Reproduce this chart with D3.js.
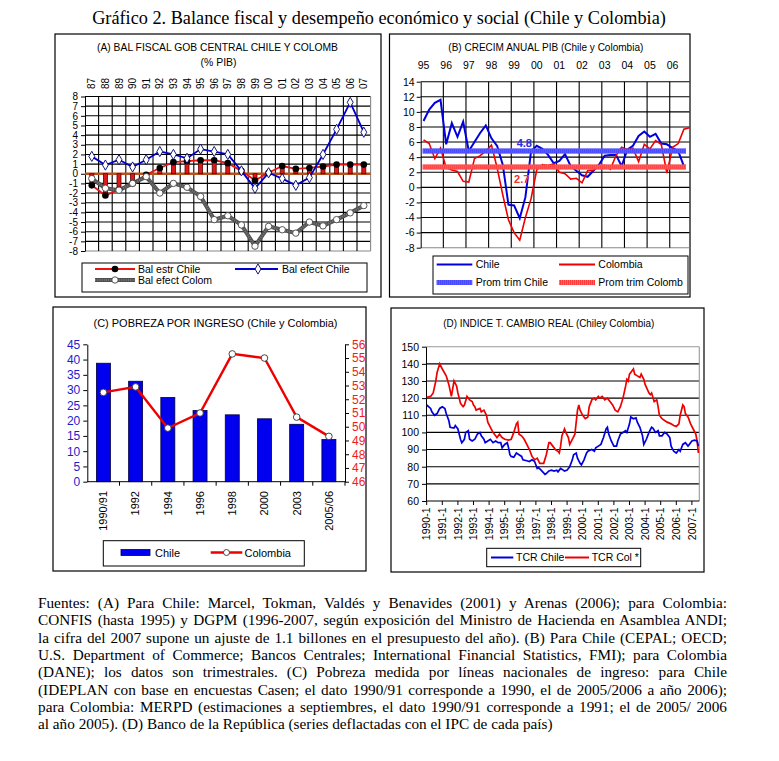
<!DOCTYPE html>
<html><head><meta charset="utf-8">
<script src="https://cdn.jsdelivr.net/npm/d3@7"></script>
<style>body{margin:0;background:#fff}svg{display:block}</style>
</head><body><svg id="c" width="779" height="761"></svg>
<script>
// ---------------- DATA ----------------
const yearsA = ["87","88","89","90","91","92","93","94","95","96","97","98","99","00","01","02","03","04","05","06","07"];
const balEstrChile = [-1.2,-2.25,-1.65,-1.0,-0.1,0.6,1.2,1.3,1.4,1.4,1.1,0.3,-0.7,0.1,0.8,0.5,0.6,0.75,0.95,0.95,0.95];
const balEfectChile = [1.8,0.9,1.45,0.7,1.45,2.3,2.0,1.6,2.55,2.3,2.0,0.3,-1.5,0.1,-0.5,-1.2,-0.4,2.0,4.6,7.4,4.3];
const balEfectColom = [-0.5,-1.5,-1.7,-1.0,-0.3,-2.0,-1.0,-1.4,-2.35,-4.75,-4.35,-5.3,-7.5,-5.45,-5.8,-6.15,-5.0,-5.4,-4.75,-4.05,-3.3];
const ticksA = [8,7,6,5,4,3,2,1,0,-1,-2,-3,-4,-5,-6,-7,-8];

const yearsB = ["95","96","97","98","99","00","01","02","03","04","05","06"];
const pibChile = [8.8,10.3,11.2,11.6,5.7,8.5,6.7,8.7,4.8,6.0,7.2,8.2,6.5,5.5,3.0,-2.3,-2.4,-4.1,-1.3,4.8,5.5,5.1,4.3,3.2,3.5,4.4,2.8,2.2,1.6,1.4,2.2,3.0,4.2,4.3,4.3,2.8,5.0,5.5,6.8,7.4,6.7,7.1,5.8,5.7,5.2,4.8,2.8];
const pibColombia = [6.3,5.8,3.8,5.2,2.6,2.3,2.1,0.8,0.7,3.8,4.2,4.8,5.6,2.6,-1.0,-4.3,-6.0,-7.0,-4.0,-1.5,2.3,3.0,2.9,3.1,2.0,1.8,1.1,1.2,0.6,2.2,2.3,2.7,2.9,2.4,4.2,5.3,5.0,5.2,3.4,5.7,5.1,6.2,5.7,1.9,5.3,5.8,7.7,7.9];
const promTrim = [4.8, 2.7]; // Chile, Colombia
const ticksB = [14,12,10,8,6,4,2,0,-2,-4,-6,-8];

const pobCats = ["1990/91","1992","1994","1996","1998","2000","2003","2005/06"];
const pobChile = [38.8,32.9,27.6,23.3,21.9,20.6,18.8,13.8];
const pobColombia = [52.5,52.9,49.9,51.0,55.3,55.0,50.7,49.3];
const ticksCLeft = [0,5,10,15,20,25,30,35,40,45];
const ticksCRight = [46,47,48,49,50,51,52,53,54,55,56];

const tcrYearLabels = ["1990-1","1991-1","1992-1","1993-1","1994-1","1995-1","1996-1","1997-1","1998-1","1999-1","2000-1","2001-1","2002-1","2003-1","2004-1","2005-1","2006-1","2007-1"];
// months since 1990-1
const tcrChileMonth = [0,3,4,6,8,10,12,14,15,17,18,21,22,24,26,27,29,30,32,33,35,37,39,41,42,44,45,47,49,51,53,55,57,58,60,62,63,64,65,67,69,71,73,74,77,79,81,83,85,86,88,91,92,94,96,98,100,101,103,105,106,108,110,112,113,115,116,118,119,121,123,124,127,129,130,132,134,136,138,139,140,142,144,146,147,149,151,153,154,156,157,159,161,162,164,166,167,169,171,173,174,176,178,179,181,183,185,187,188,190,192,194,195,197,199,201,202,204,206,208,209];
const tcrChileValue = [116,114,112,110,111,114,115,114,111,107,103,102.5,104,102,96,94,96,100,101,96,95,96,99,100,98,96,94,95,96,94,95,94,94,91,93,94,91,87,86,85.5,88,87,86,84,83.5,83,84,83,79,79.5,78,75.5,76,77.5,78,77.5,78,77,79,78,77.5,78,80,84,87,88,85,82,81,84,88,89,90,89,91,92,93,97,102,103,99,95,92,92,95,99,100,101,100,105,109,108,108.5,106,103,98,93,96,100,103,102.5,100,101,98,98,100,99,97,92,89,88,90,89,93,94,92,93,95,95.5,95,92];
const tcrColMonth = [0,3,5,7,8,10,12,15,17,19,21,23,24,26,28,29,31,33,35,36,37,38,41,42,44,46,47,49,51,53,54,56,58,60,63,65,67,69,70,71,73,75,77,79,81,83,85,87,90,92,94,95,97,99,101,102,103,104,106,107,109,110,112,114,115,116,117,118,120,122,124,125,127,129,130,132,133,135,137,139,141,143,145,147,149,151,153,154,155,156,158,159,160,162,164,165,167,168,171,172,173,175,177,178,179,181,183,185,188,190,192,194,195,197,198,199,201,203,205,207,208,209];
const tcrColValue = [120.5,121,123,130,135,140,137,133,128,121,130,127,123,117,115,116,121,119,118,116,115,113,114,112,113,110,106,103,100,98,97,99,97,96,95.5,96,100,105,106,99,98,96,93,90,86,84,85,82,82,87,94,94,92,90,89,88,92,98,102,100,97,93,96,99,106,113,116,113,110,108,109,115,119,120,119,121,120,121,119,120,118,116,113,112,115,120,127,131,130,134,136,137,134,133,132,134,131,128,123,122,123,118,119,115,110,108,107,106,105,104,103.5,105,110,116,115,111,109,105,102,99,95,88];
const ticksD = [150,140,130,120,110,100,90,80,70,60];

const mainTitle = "Gráfico 2. Balance fiscal y desempeño económico y social (Chile y Colombia)";
const footLines = [
 "Fuentes: (A) Para Chile: Marcel, Tokman, Valdés y Benavides (2001) y Arenas (2006); para Colombia:",
 "CONFIS (hasta 1995) y DGPM (1996-2007, según exposición del Ministro de Hacienda en Asamblea ANDI;",
 "la cifra del 2007 supone un ajuste de 1.1 billones en el presupuesto del año). (B) Para Chile (CEPAL; OECD;",
 "U.S. Department of Commerce; Bancos Centrales; International Financial Statistics, FMI); para Colombia",
 "(DANE); los datos son trimestrales. (C) Pobreza medida por líneas nacionales de ingreso: para Chile",
 "(IDEPLAN con base en encuestas Casen; el dato 1990/91 corresponde a 1990, el de 2005/2006 a año 2006);",
 "para Colombia: MERPD (estimaciones a septiembres, el dato 1990/91 corresponde a 1991; el de 2005/ 2006",
 "al año 2005). (D) Banco de la República (series deflactadas con el IPC de cada país)"
];

// ---------------- DRAW ----------------
const SANS = "'Liberation Sans', Arial, sans-serif";
const SERIF = "'Liberation Serif', 'Times New Roman', serif";
const svg = d3.select("#c");
svg.append("rect").attr("width",779).attr("height",761).attr("fill","#fff");

function ln(g,x1,y1,x2,y2,stroke,w,dash){
  const l=g.append("line").attr("x1",x1).attr("y1",y1).attr("x2",x2).attr("y2",y2)
   .attr("stroke",stroke).attr("stroke-width",w);
  if(dash) l.attr("stroke-dasharray",dash);
  return l;
}
function tx(g,x,y,s,o={}){
  const t=g.append("text").attr("x",x).attr("y",y).text(s)
   .attr("font-family",o.family||SANS).attr("font-size",o.size||10.5)
   .attr("fill",o.fill||"#000").attr("text-anchor",o.anchor||"start");
  if(o.weight) t.attr("font-weight",o.weight);
  if(o.len){ t.attr("textLength",o.len).attr("lengthAdjust","spacingAndGlyphs"); }
  if(o.transform) t.attr("transform",o.transform);
  if(o.dy) t.attr("dy",o.dy);
  return t;
}
function box(g,x1,y1,x2,y2,w){
  g.append("rect").attr("x",x1).attr("y",y1).attr("width",x2-x1).attr("height",y2-y1)
   .attr("fill","none").attr("stroke","#000").attr("stroke-width",w||1.2);
}
function styleAxis(a){
  a.selectAll("text").attr("font-family",SANS);
  a.select(".domain").attr("stroke","#000");
}
const fmt = d=>String(d);

// Main title
const mt = tx(svg,379,24,mainTitle,{family:SERIF,size:16,anchor:"middle"});
{ const w=mt.node().getComputedTextLength(); mt.attr("font-size",16*574/w); }

// Panel boxes
box(svg,55,34,381,297);
box(svg,389.5,34,690,297);
box(svg,53,307,366,571);
box(svg,391,308,704,572);

// ===== Panel A =====
{
 const g=svg.append("g");
 const x=d3.scaleBand().domain(yearsA).range([85,370.6]);
 const y=d3.scaleLinear().domain([-8,8]).range([251,96.5]);
 const cx=d=>x(d)+x.bandwidth()/2;
 tx(g,217.5,50.5,"(A) BAL FISCAL GOB CENTRAL CHILE Y COLOMB",{anchor:"middle",size:10.5,len:241});
 tx(g,218.5,66,"(% PIB)",{anchor:"middle",size:10.5,len:36});
 // grid
 ticksA.forEach(v=>{ ln(g,85,y(v),370.6,y(v), v===-8?"#888":"#000", 1.1); });
 yearsA.forEach((d,i)=>{ if(i>0) ln(g,x(d),y(8),x(d),y(-8),"#000",1.1); });
 ln(g,370.6,y(8),370.6,y(-8),"#888",1.1);
 const ax=g.append("g").attr("transform","translate(85,0)")
   .call(d3.axisLeft(y).tickValues(ticksA).tickSize(4).tickSizeOuter(0).tickPadding(3).tickFormat(fmt));
 styleAxis(ax); ax.selectAll("text").attr("font-size",10);
 // top labels
 yearsA.forEach(d=>{
   tx(g,0,0,d,{size:10,transform:`translate(${cx(d)},89) rotate(-90)`,dy:"0.35em"});
 });
 // zero line
 ln(g,85,y(0),370.6,y(0),"#b4531e",2.4);
 // bars
 g.selectAll(".barA").data(balEstrChile).join("rect")
  .attr("x",(v,i)=>cx(yearsA[i])-2).attr("width",4)
  .attr("y",v=>Math.min(y(0),y(v))).attr("height",v=>Math.abs(y(v)-y(0)))
  .attr("fill","#dd1a1a").attr("stroke","#5a0000").attr("stroke-width",0.8);
 const line=d3.line().x((v,i)=>cx(yearsA[i])).y(v=>y(v));
 g.append("path").attr("d",line(balEstrChile)).attr("fill","none").attr("stroke","#ee1111").attr("stroke-width",1.8);
 g.append("path").attr("d",line(balEfectColom)).attr("fill","none").attr("stroke","#505050").attr("stroke-width",4);
 g.append("path").attr("d",line(balEfectColom)).attr("fill","none").attr("stroke","#7a7a7a").attr("stroke-width",2).attr("stroke-dasharray","1,1.2");
 g.append("path").attr("d",line(balEfectChile)).attr("fill","none").attr("stroke","#0000cc").attr("stroke-width",1.8);
 balEstrChile.forEach((v,i)=>g.append("circle").attr("cx",cx(yearsA[i])).attr("cy",y(v)).attr("r",3.3).attr("fill","#000"));
 balEfectColom.forEach((v,i)=>g.append("circle").attr("cx",cx(yearsA[i])).attr("cy",y(v)).attr("r",3.2).attr("fill","#fff").attr("stroke","#444").attr("stroke-width",0.9));
 const dia=d3.symbol().type(d3.symbolDiamond).size(30);
 balEfectChile.forEach((v,i)=>g.append("path").attr("d",dia()).attr("transform",`translate(${cx(yearsA[i])},${y(v)})`).attr("fill","#fff").attr("stroke","#000066").attr("stroke-width",0.9));
 // legend
 box(g,82,263,367,292,1);
 ln(g,95,269,135,269,"#ee1111",1.8); g.append("circle").attr("cx",115).attr("cy",269).attr("r",3.3).attr("fill","#000");
 tx(g,138,272.5,"Bal estr Chile",{size:10.5});
 ln(g,235,269,278,269,"#0000cc",1.8); g.append("path").attr("d",dia()).attr("transform","translate(258,269)").attr("fill","#fff").attr("stroke","#000066").attr("stroke-width",0.9);
 tx(g,282,272.5,"Bal efect Chile",{size:10.5});
 ln(g,95,280,135,280,"#505050",4); ln(g,95,280,135,280,"#7a7a7a",2,"1,1.2");
 g.append("circle").attr("cx",115).attr("cy",280).attr("r",3.2).attr("fill","#fff").attr("stroke","#444").attr("stroke-width",0.9);
 tx(g,138,283.5,"Bal efect Colom",{size:10.5});
}

// ===== Panel B =====
{
 const g=svg.append("g");
 const clip=svg.append("clipPath").attr("id","clipB");
 clip.append("rect").attr("x",389.5).attr("y",34).attr("width",300).attr("height",263);
 const q=d3.range(48);
 const x=d3.scaleBand().domain(q).range([420.7,420.7+48*5.66]);
 const y=d3.scaleLinear().domain([-8,14]).range([247.7,81.7]);
 const cx=i=>x(i)+x.bandwidth()/2;
 tx(g,545.8,51,"(B) CRECIM ANUAL PIB (Chile y Colombia)",{anchor:"middle",size:10.5,len:195});
 yearsB.forEach((d,k)=>tx(g,cx(4*k),69,d,{anchor:"middle",size:10.5}));
 const gc=g.append("g").attr("clip-path","url(#clipB)");
 ticksB.forEach(v=>ln(gc,420.7,y(v),700,y(v),v===-8?"#888":"#000",1.1));
 for(let k=1;k<=12;k++){ const xx=x(4*k)!==undefined?x(4*k):420.7+48*5.66; ln(gc,xx,y(14),xx,y(-8),"#000",1.1); }
 const ax=g.append("g").attr("transform","translate(420.7,0)")
   .call(d3.axisLeft(y).tickValues(ticksB).tickSize(4).tickSizeOuter(0).tickPadding(2).tickFormat(fmt));
 styleAxis(ax); ax.selectAll("text").attr("font-size",10.5);
 const line=d3.line().x((v,i)=>cx(i)).y(v=>y(v));
 gc.append("path").attr("d",line(pibChile)).attr("fill","none").attr("stroke","#0000dd").attr("stroke-width",2);
 gc.append("path").attr("d",line(pibColombia)).attr("fill","none").attr("stroke","#ee0000").attr("stroke-width",1.6);
 ln(gc,422.7,y(promTrim[0]),686,y(promTrim[0]),"#3c3cff",5);
 ln(gc,422.7,y(promTrim[0]),686,y(promTrim[0]),"#6a6aff",5,"1,1");
 ln(gc,422.7,y(promTrim[1]),686,y(promTrim[1]),"#ff3838",5);
 ln(gc,422.7,y(promTrim[1]),686,y(promTrim[1]),"#ff6a6a",5,"1,1");
 tx(g,524.3,146.5,String(promTrim[0]),{anchor:"middle",size:11,weight:"bold",fill:"#2b2be0"});
 tx(g,521.7,183,String(promTrim[1]),{anchor:"middle",size:11,weight:"bold",fill:"#ee3030"});
 // legend
 box(g,433,256,688,294,1);
 ln(g,436.7,264.5,472.3,264.5,"#0000dd",2); tx(g,475.7,268,"Chile",{size:10.5});
 ln(g,559,264.5,595,264.5,"#ee0000",1.8); tx(g,598.3,268,"Colombia",{size:10.5});
 ln(g,436.7,282.5,472.3,282.5,"#3c3cff",5); ln(g,436.7,282.5,472.3,282.5,"#6a6aff",5,"1,1");
 tx(g,475.7,286,"Prom trim Chile",{size:10.5});
 ln(g,559,282.5,595,282.5,"#ff3838",5); ln(g,559,282.5,595,282.5,"#ff6a6a",5,"1,1");
 tx(g,598.3,286,"Prom trim Colomb",{size:10.5});
}

// ===== Panel C =====
{
 const g=svg.append("g");
 const x=d3.scaleBand().domain(pobCats).range([87.3,345]);
 const yL=d3.scaleLinear().domain([0,45]).range([481.7,344.3]);
 const yR=d3.scaleLinear().domain([46,56]).range([481.7,344.3]);
 const cx=d=>x(d)+x.bandwidth()/2;
 tx(g,215.5,327,"(C) POBREZA POR INGRESO (Chile y Colombia)",{anchor:"middle",size:10.5,len:244});
 g.selectAll(".barC").data(pobChile).join("rect")
  .attr("x",(v,i)=>cx(pobCats[i])-7).attr("width",14)
  .attr("y",v=>yL(v)).attr("height",v=>yL(0)-yL(v))
  .attr("fill","#0000ee").attr("stroke","#000040").attr("stroke-width",0.8);
 const axL=g.append("g").attr("transform","translate(87.3,0)")
   .call(d3.axisLeft(yL).tickValues(ticksCLeft).tickSize(4).tickSizeOuter(0).tickPadding(3).tickFormat(fmt));
 styleAxis(axL); axL.selectAll("text").attr("font-size",12).attr("fill","#1c1cd0");
 const axR=g.append("g").attr("transform","translate(345,0)")
   .call(d3.axisRight(yR).tickValues(ticksCRight).tickSize(4).tickSizeOuter(0).tickPadding(3).tickFormat(fmt));
 styleAxis(axR); axR.selectAll("text").attr("font-size",12).attr("fill","#f01c1c");
 ln(g,87.3,yL(0),345,yL(0),"#000",1);
 pobCats.forEach((d,i)=>ln(g,x(d)+x.bandwidth(),yL(0),x(d)+x.bandwidth(),yL(0)+4,"#000",1));
 pobCats.forEach(d=>tx(g,0,0,d,{size:11,anchor:"end",transform:`translate(${cx(d)},491) rotate(-90)`,dy:"0.35em"}));
 const line=d3.line().x((v,i)=>cx(pobCats[i])).y(v=>yR(v));
 g.append("path").attr("d",line(pobColombia)).attr("fill","none").attr("stroke","#ee0000").attr("stroke-width",2.4);
 pobColombia.forEach((v,i)=>g.append("circle").attr("cx",cx(pobCats[i])).attr("cy",yR(v)).attr("r",3.3).attr("fill","#fff").attr("stroke","#333").attr("stroke-width",0.9));
 // legend
 box(g,103.3,540.7,304.3,566,1);
 g.append("rect").attr("x",121).attr("y",549.5).attr("width",29).attr("height",6).attr("fill","#0000ee").attr("stroke","#000040").attr("stroke-width",0.8);
 tx(g,155,557,"Chile",{size:11});
 ln(g,210.7,552.5,242.3,552.5,"#ee0000",2.4);
 g.append("circle").attr("cx",226.5).attr("cy",552.5).attr("r",3).attr("fill","#fff").attr("stroke","#333").attr("stroke-width",0.9);
 tx(g,244.5,557,"Colombia",{size:11});
}

// ===== Panel D =====
{
 const g=svg.append("g");
 const x=d3.scaleLinear().domain([0,209]).range([426.7,426.7+209*1.3]);
 const y=d3.scaleLinear().domain([60,150]).range([501,346.7]);
 tx(g,548.8,327,"(D) INDICE T. CAMBIO REAL (Chiley Colombia)",{anchor:"middle",size:10.5,len:211});
 ticksD.forEach(v=>{ if(v>60 && v<150) ln(g,426,y(v),699.3,y(v),"#000",1.1); });
 ln(g,426,y(150),699.3,y(150),"#999",1.1);
 ln(g,699.3,y(150),699.3,y(60),"#999",1.1);
 const ax=g.append("g").attr("transform","translate(426,0)")
   .call(d3.axisLeft(y).tickValues(ticksD).tickSize(4).tickSizeOuter(0).tickPadding(3).tickFormat(fmt));
 styleAxis(ax); ax.selectAll("text").attr("font-size",10.5);
 ln(g,426,y(60),699.3,y(60),"#000",1.1);
 tcrYearLabels.forEach((d,k)=>{
   const xx=x(12*k);
   ln(g,xx,y(60),xx,y(60)+4,"#000",1);
   tx(g,0,0,d,{size:10.5,anchor:"end",transform:`translate(${xx},507.5) rotate(-90)`,dy:"0.35em"});
 });
 const ptsC=d3.zip(tcrChileMonth,tcrChileValue), ptsR=d3.zip(tcrColMonth,tcrColValue);
 const line=d3.line().x(p=>x(p[0])).y(p=>y(p[1]));
 g.append("path").attr("d",line(ptsR)).attr("fill","none").attr("stroke","#ee0000").attr("stroke-width",1.7);
 g.append("path").attr("d",line(ptsC)).attr("fill","none").attr("stroke","#0000dd").attr("stroke-width",1.7);
 // legend
 box(g,486.7,548.3,640.7,566.7,1);
 ln(g,491,557.5,513.3,557.5,"#0000dd",2); tx(g,516,561,"TCR Chile",{size:10.5});
 ln(g,565,557.5,589,557.5,"#ee0000",2); tx(g,591.7,561,"TCR Col *",{size:10.5});
}

// ===== Footnote =====
{
 const g=svg.append("g");
 const x0=38, x1=727, base=608, lh=17.35;
 // fit font size on last (non-justified) line
 const probe=tx(g,x0,-50,footLines[footLines.length-1],{family:SERIF,size:13});
 const fs=13*515/probe.node().getComputedTextLength();
 probe.remove();
 footLines.forEach((s,i)=>{
   const t=tx(g,x0,base+i*lh,s,{family:SERIF,size:fs});
   if(i<footLines.length-1){
     const w=t.node().getComputedTextLength();
     const n=(s.match(/ /g)||[]).length;
     t.style("word-spacing",((x1-x0-w)/n)+"px");
   }
 });
}
</script></body></html>
